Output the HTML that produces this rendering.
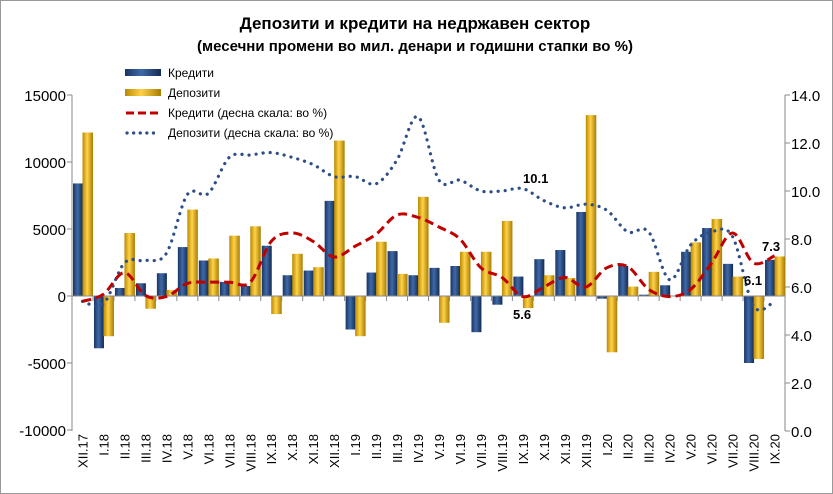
<!DOCTYPE html>
<html><head><meta charset="utf-8"><style>
body{margin:0;background:#fff}
svg{display:block;font-family:"Liberation Sans",sans-serif}
</style></head><body>
<svg id="s" width="833" height="494" viewBox="0 0 833 494" xmlns="http://www.w3.org/2000/svg">
<defs>
<linearGradient id="gb" x1="0" x2="1" y1="0" y2="0"><stop offset="0" stop-color="#1a3463"/><stop offset="0.45" stop-color="#3f6aa8"/><stop offset="1" stop-color="#142a52"/></linearGradient>
<linearGradient id="gg" x1="0" x2="1" y1="0" y2="0"><stop offset="0" stop-color="#b98a00"/><stop offset="0.45" stop-color="#ffd24a"/><stop offset="1" stop-color="#a87c00"/></linearGradient>
</defs>
<rect x="0.5" y="0.5" width="832" height="493" fill="#fff" stroke="#999"/>
<text x="415" y="29" text-anchor="middle" font-size="17" font-weight="bold">Депозити и кредити на недржавен сектор</text>
<text x="415" y="51" text-anchor="middle" font-size="15" font-weight="bold">(месечни промени во мил. денари и годишни стапки во %)</text>
<g id="g"></g>
</svg>
<script>
var g=document.getElementById('g'),NS='http://www.w3.org/2000/svg',h='';
var x0=72,x1=785,n=34,w=(x1-x0)/n;
function yl(v){return 296-v*67/5000}
function yr(v){return 431-v*24}
var cats=['XII.17','I.18','II.18','III.18','IV.18','V.18','VI.18','VII.18','VIII.18','IX.18','X.18','XI.18','XII.18','I.19','II.19','III.19','IV.19','V.19','VI.19','VII.19','VIII.19','IX.19','X.19','XI.19','XII.19','I.20','II.20','III.20','IV.20','V.20','VI.20','VII.20','VIII.20','IX.20'];
var B=[8400,-3900,600,950,1700,3650,2650,1050,750,3750,1550,1900,7100,-2500,1750,3350,1550,2100,2240,-2700,-650,1450,2750,3430,6270,-200,2240,100,800,3300,5070,2400,-5000,2700];
var D=[12200,-3000,4700,-950,450,6450,2800,4500,5200,-1350,3150,2150,11600,-3000,4050,1650,7400,-2000,3300,3300,5600,-900,1550,1350,13500,-4200,700,1800,0,4000,5750,1450,-4700,2950];
var R=[5.4,5.7,6.6,5.65,5.6,6.15,6.2,6.2,6.2,7.9,8.25,7.9,7.25,7.7,8.2,9.0,8.9,8.5,8.0,6.8,6.4,5.6,6.0,6.4,6.0,6.8,6.85,5.9,5.6,5.9,7.0,8.25,7.0,7.3];
var P=[5.4,5.3,7.0,7.1,7.4,9.85,9.9,11.4,11.5,11.6,11.4,11.1,10.6,10.6,10.3,11.3,13.1,10.45,10.45,10.0,10.0,10.1,9.6,9.3,9.45,9.2,8.3,8.3,6.3,7.75,8.3,8.1,5.2,5.4];
// grid/axes
h+='<line x1="'+x0+'" y1="95" x2="'+x0+'" y2="431" stroke="#888"/>';
h+='<line x1="'+x1+'" y1="95" x2="'+x1+'" y2="431" stroke="#888"/>';
for(var i=0;i<=5;i++){var v=15000-i*5000,y=yl(v);h+='<line x1="'+(x0-5)+'" y1="'+y+'" x2="'+x0+'" y2="'+y+'" stroke="#888"/><text x="'+(x0-6)+'" y="'+(y+6)+'" text-anchor="end" font-size="15">'+v+'</text>';}
for(var i=0;i<=7;i++){var v=i*2,y=yr(v);h+='<line x1="'+x1+'" y1="'+y+'" x2="'+(x1+5)+'" y2="'+y+'" stroke="#888"/><text x="'+(x1+6)+'" y="'+(y+6)+'" font-size="15">'+v.toFixed(1)+'</text>';}
for(var i=0;i<n;i++){var xs=x0+i*w;
 h+='<rect x="'+(xs+1)+'" y="'+Math.min(yl(B[i]),296)+'" width="10" height="'+Math.abs(yl(B[i])-296)+'" fill="url(#gb)"/>';
 h+='<rect x="'+(xs+10.5)+'" y="'+Math.min(yl(D[i]),296)+'" width="10.5" height="'+Math.abs(yl(D[i])-296)+'" fill="url(#gg)"/>';
 h+='<text transform="translate('+(xs+w/2+5)+',434) rotate(-90)" text-anchor="end" font-size="13">'+cats[i]+'</text>';}
h+='<line x1="'+x0+'" y1="296" x2="'+x1+'" y2="296" stroke="#888"/>';
for(var i=0;i<=n;i++){var xs=x0+i*w;h+='<line x1="'+xs+'" y1="296" x2="'+xs+'" y2="301" stroke="#888"/>';}
function path(a){var p=a.map(function(v,i){return[x0+i*w+w/2,yr(v)]});var d='M'+p[0][0]+','+p[0][1];
 for(var i=0;i<p.length-1;i++){var a0=p[Math.max(i-1,0)],a1=p[i],a2=p[i+1],a3=p[Math.min(i+2,p.length-1)];
 d+=' C'+(a1[0]+(a2[0]-a0[0])/6)+','+(a1[1]+(a2[1]-a0[1])/6)+' '+(a2[0]-(a3[0]-a1[0])/6)+','+(a2[1]-(a3[1]-a1[1])/6)+' '+a2[0]+','+a2[1];}return d;}
h+='<path d="'+path(P)+'" fill="none" stroke="#2d4f86" stroke-width="3.2" stroke-dasharray="0.1 7" stroke-linecap="round"/>';
h+='<path d="'+path(R)+'" fill="none" stroke="#c00000" stroke-width="3" stroke-dasharray="9 5"/>';
h+='<text x="523" y="183" font-size="13" font-weight="bold">10.1</text>';
h+='<text x="513" y="319" font-size="13" font-weight="bold">5.6</text>';
h+='<text x="744" y="285" font-size="13" font-weight="bold">6.1</text>';
h+='<text x="762" y="251" font-size="13" font-weight="bold">7.3</text>';
// legend
h+='<rect x="125" y="69" width="36" height="7" fill="url(#gb)"/><text x="168" y="77" font-size="12">Кредити</text>';
h+='<rect x="125" y="89" width="36" height="7" fill="url(#gg)"/><text x="168" y="97" font-size="12">Депозити</text>';
h+='<line x1="126" y1="113" x2="160" y2="113" stroke="#c00000" stroke-width="3" stroke-dasharray="8 4"/><text x="168" y="117" font-size="12">Кредити  (десна скала: во %)</text>';
h+='<line x1="127" y1="133" x2="160" y2="133" stroke="#2d4f86" stroke-width="3.2" stroke-dasharray="0.1 6.5" stroke-linecap="round"/><text x="168" y="137" font-size="12">Депозити  (десна скала: во %)</text>';
g.innerHTML=h;
</script>
</body></html>
